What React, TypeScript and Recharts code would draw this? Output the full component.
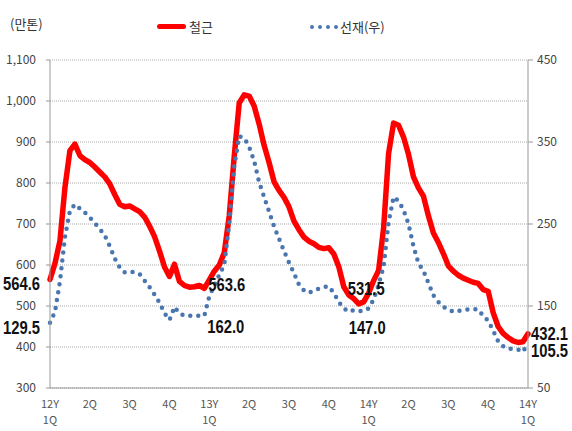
import { LineChart, Line, XAxis, YAxis, CartesianGrid, LabelList } from 'recharts'

// 주간 데이터, 분기당 8구간
const STEPS_PER_Q = 8

const quarterLabels = ['12Y\n1Q', '2Q', '3Q', '4Q', '13Y\n1Q', '2Q', '3Q', '4Q', '14Y\n1Q', '2Q', '3Q', '4Q', '14Y\n1Q']

// 철근 (만톤, 좌축)
const rebar = [
  564.6, 604, 659, 789, 879, 895, 867, 857, 850, 839,
  827, 815, 798, 772, 748, 742, 744, 737, 730, 717,
  695, 669, 634, 595, 572, 602, 560, 550, 546, 547,
  550, 543, 563.6, 585, 600, 630, 720, 865, 995, 1015,
  1012, 988, 944, 892, 850, 803, 782, 765, 742, 707,
  686, 668, 658, 652, 643, 640, 642, 627, 596, 547,
  527, 518, 505, 510, 531.5, 562, 587, 690, 872, 946,
  941, 912, 870, 815, 788, 768, 720, 678, 655, 628,
  598, 585, 575, 568, 563, 558, 555, 540, 536, 484,
  450, 433, 423, 415, 411, 413, 432.1,
]

// 선재 (우축)
const wireRod = [
  129.5, 143, 180, 234, 266, 274, 269, 264, 258, 251,
  244, 236, 223, 208, 197, 191, 192, 191, 189, 181,
  173, 164, 154, 141, 133, 149, 141, 138, 138, 138,
  138, 138, 162.0, 175, 188, 200, 250, 320, 357, 355,
  344, 327, 301, 283, 265, 247, 232, 217, 203, 190,
  176, 169, 166, 169, 171, 173, 174, 166, 155, 147,
  143, 145, 144, 144, 147.0, 158, 176, 198, 252, 283,
  278, 267, 250, 223, 202, 193, 178, 163, 155, 149,
  146, 143, 144, 145, 146, 146, 146, 138, 132, 120,
  107, 101, 98, 98, 97, 94, 105.5,
]

const leftTicks = [300, 400, 500, 600, 700, 800, 900, 1000, 1100]
const rightTicks = [50, 150, 250, 350, 450]
const xTicks = quarterLabels.map((_, k) => k * STEPS_PER_Q)
const notedIdx = [0, 32, 64, 96]

// 라벨 위치 보정 [dx, dy, anchor]
const rebarNoteOffsets: [number, number, string][] = [[-10, 4, 'end'], [-1, 5, 'start'], [-21, -4, 'start'], [3, 0, 'start']]
const wireNoteOffsets: [number, number, string][] = [[-10, 5, 'end'], [-2, 31, 'start'], [-20, 20, 'start'], [3, 9, 'start']]

const data = rebar.map((v, i) => ({ i, rebar: v, wire: wireRod[i] }))

const RED = '#ff0000'
const BLUE = '#4a76b0'
const TICK_FONT = "'Noto Sans CJK KR', 'Noto Sans', sans-serif"
const NOTE_FONT = "'Liberation Sans', Arial, sans-serif"

const makeNote = (offsets: [number, number, string][]) => (props: any) => {
  const { x, y, index, value } = props
  const k = notedIdx.indexOf(index)
  if (k < 0) return null
  const [dx, dy, anchor] = offsets[k]
  return (
    <text
      x={x + dx}
      y={y + dy}
      textAnchor={anchor}
      dominantBaseline="central"
      fontFamily={NOTE_FONT}
      fontWeight="bold"
      fontSize={18}
      textLength={37}
      lengthAdjust="spacingAndGlyphs"
      fill="#111"
    >
      {Number(value).toFixed(1)}
    </text>
  )
}

const QuarterTick = (props: any) => {
  const { x, y, payload } = props
  const lines = quarterLabels[Math.round(payload.value / STEPS_PER_Q)].split('\n')
  return (
    <text x={x} y={y} textAnchor="middle" fontFamily={TICK_FONT} fontSize={11} fill="#555">
      {lines.map((l, k) => (
        <tspan key={k} x={x} dy={k === 0 ? 12 : 16}>{l}</tspan>
      ))}
    </text>
  )
}

export default function App() {
  return (
    <div style={{ position: 'absolute', left: 0, top: 0, width: 572, height: 431, background: '#fff' }}>
      <div style={{ position: 'absolute', left: 10, top: 14, fontFamily: TICK_FONT, fontSize: 13, color: '#333' }}>(만톤)</div>
      <div style={{ position: 'absolute', left: 157, top: 17, display: 'flex', alignItems: 'center', fontFamily: TICK_FONT, fontSize: 13, color: '#333' }}>
        <span style={{ display: 'inline-block', width: 29, height: 5, borderRadius: 3, background: RED, marginRight: 3 }} />
        철근
      </div>
      <div style={{ position: 'absolute', left: 310, top: 17, display: 'flex', alignItems: 'center', fontFamily: TICK_FONT, fontSize: 13, color: '#333' }}>
        <svg width={28} height={6} style={{ marginRight: 2 }}>
          <line x1={2} y1={3} x2={27} y2={3} stroke={BLUE} strokeWidth={4} strokeDasharray="0 8" strokeLinecap="round" />
        </svg>
        선재(우)
      </div>

      <LineChart width={572} height={431} data={data} margin={{ top: 60, right: 0, left: 0, bottom: 0 }}>
        <CartesianGrid yAxisId="left" vertical={false} stroke="#aaa" strokeDasharray="1 1" />
        <XAxis
          dataKey="i"
          type="number"
          domain={[0, 96]}
          ticks={xTicks}
          interval={0}
          tickLine={false}
          axisLine={{ stroke: '#999' }}
          height={43}
          tick={<QuarterTick />}
        />
        <YAxis
          yAxisId="left"
          domain={[300, 1100]}
          ticks={leftTicks}
          interval={0}
          width={50}
          tickSize={4}
          tickMargin={10}
          axisLine={{ stroke: '#999' }}
          tickLine={{ stroke: '#999' }}
          tick={{ fontFamily: TICK_FONT, fontSize: 12, fill: '#444' }}
          tickFormatter={(v: number) => v.toLocaleString('en-US')}
        />
        <YAxis
          yAxisId="right"
          orientation="right"
          domain={[50, 450]}
          ticks={rightTicks}
          interval={0}
          width={44}
          tickSize={5}
          tickMargin={4}
          axisLine={{ stroke: '#999' }}
          tickLine={{ stroke: '#999' }}
          tick={{ fontFamily: TICK_FONT, fontSize: 12, fill: '#444', textAnchor: 'start' }}
        />
        <Line
          yAxisId="left"
          type="linear"
          dataKey="rebar"
          stroke={RED}
          strokeWidth={5.5}
          strokeLinejoin="round"
          strokeLinecap="round"
          dot={false}
          isAnimationActive={false}
        >
          <LabelList dataKey="rebar" content={makeNote(rebarNoteOffsets)} />
        </Line>
        <Line
          yAxisId="right"
          type="linear"
          dataKey="wire"
          stroke={BLUE}
          strokeWidth={4.5}
          strokeDasharray="0 8"
          strokeLinecap="round"
          dot={false}
          isAnimationActive={false}
        >
          <LabelList dataKey="wire" content={makeNote(wireNoteOffsets)} />
        </Line>
      </LineChart>
    </div>
  )
}
